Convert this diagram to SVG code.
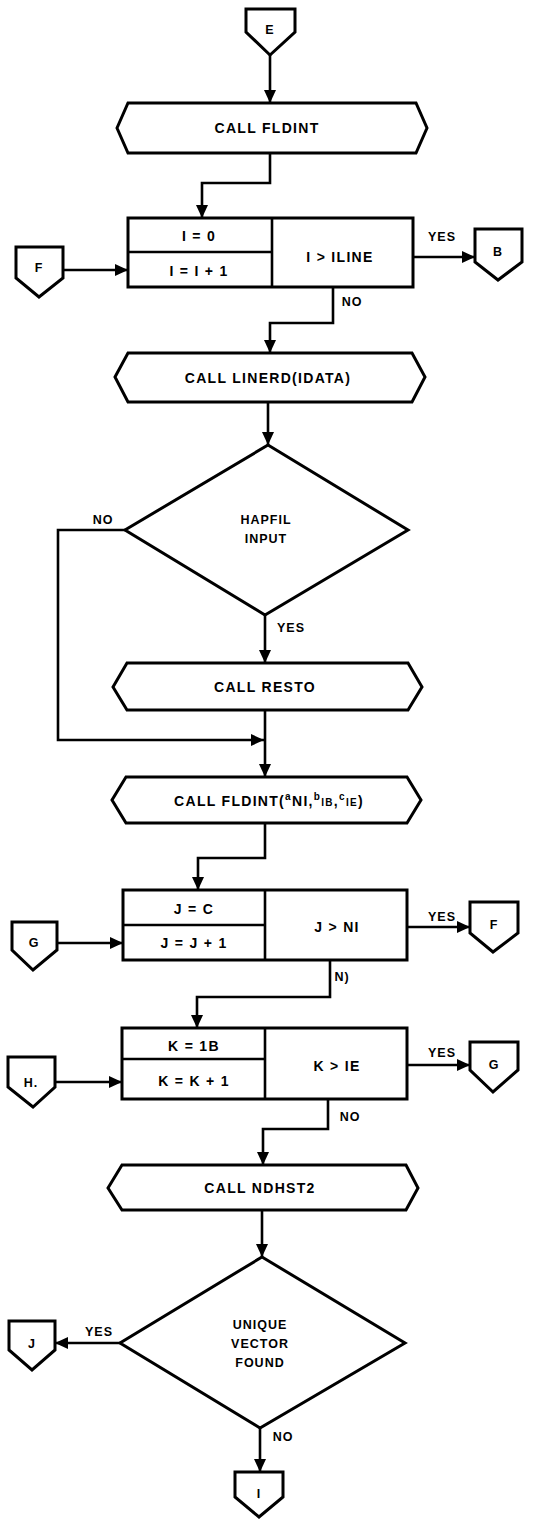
<svg xmlns="http://www.w3.org/2000/svg" width="553" height="1519" viewBox="0 0 553 1519">
<style>
.s{fill:#fff;stroke:#000;stroke-width:3;stroke-linejoin:miter}
.ln{fill:none;stroke:#000;stroke-width:2.6}
.c{fill:none;stroke:#000;stroke-width:2.6;marker-end:url(#ah)}
text{font-family:"Liberation Sans",Arial,sans-serif;font-weight:bold;fill:#000;text-anchor:middle;dominant-baseline:central}
.t{font-size:14px;letter-spacing:1.3px}
.l{font-size:12.5px;letter-spacing:1px}
.sm{font-size:10px}
</style>
<defs>
<marker id="ah" markerUnits="userSpaceOnUse" markerWidth="13" markerHeight="12" refX="13" refY="6" orient="auto">
<path d="M0,0 L13,6 L0,12 z" fill="#000"/>
</marker>
</defs>
<g id="connectors">
<path class="c" d="M270 55 V103"/>
<path class="c" d="M270 153 V183 H202 V218"/>
<path class="c" d="M63 270 H128"/>
<path class="c" d="M413 257 H475"/>
<path class="c" d="M333 287 V323 H270 V353"/>
<path class="c" d="M268 402 V445"/>
<path class="c" d="M265 615 V663"/>
<path class="c" d="M125 530 H58 V740 H264"/>
<path class="c" d="M265 710 V777"/>
<path class="c" d="M265 823 V858 H198 V890"/>
<path class="c" d="M57 943 H123"/>
<path class="c" d="M407 927 H470"/>
<path class="c" d="M330 960 V997 H197 V1028"/>
<path class="c" d="M55 1082 H122"/>
<path class="c" d="M407 1065 H470"/>
<path class="c" d="M328 1099 V1129 H263 V1165"/>
<path class="c" d="M262 1210 V1257"/>
<path class="c" d="M120 1343 H55"/>
<path class="c" d="M260 1428 V1472"/>
<text class="l" x="442" y="237">YES</text>
<text class="l" x="352" y="302">NO</text>
<text class="l" x="103" y="520">NO</text>
<text class="l" x="291" y="628">YES</text>
<text class="l" x="442" y="917">YES</text>
<text class="l" x="342" y="977">N)</text>
<text class="l" x="442" y="1053">YES</text>
<text class="l" x="350" y="1117">NO</text>
<text class="l" x="99" y="1332">YES</text>
<text class="l" x="283" y="1437">NO</text>
</g>
<g id="conn-E"><polygon class="s" points="246,9 295,9 295,32 270,55 246,32"/><text class="l" x="270" y="30">E</text></g>
<g id="call-fldint"><polygon class="s" points="117,128 128,103 416,103 427,128 416,153 128,153"/><text class="t" x="267" y="128">CALL FLDINT</text></g>
<g id="loop-I">
<rect class="s" x="128" y="218" width="285" height="69"/>
<line class="ln" x1="272" y1="218" x2="272" y2="287"/>
<line class="ln" x1="128" y1="252" x2="272" y2="252"/>
<text class="t" x="199" y="236">I = 0</text>
<text class="t" x="199" y="271">I = I + 1</text>
<text class="t" x="340" y="257">I &gt; ILINE</text>
</g>
<g id="conn-F-left"><polygon class="s" points="16,247 63,247 63,278 39,297 16,278"/><text class="l" x="39" y="268">F</text></g>
<g id="conn-B"><polygon class="s" points="475,229 522,229 522,262 498,280 475,262"/><text class="l" x="498" y="252">B</text></g>
<g id="call-linerd"><polygon class="s" points="115,377 128,353 412,353 425,377 412,402 128,402"/><text class="t" x="268" y="378">CALL LINERD(IDATA)</text></g>
<g id="dec-mapfil"><polygon class="s" points="268,445 408,530 265,615 125,530"/><text class="l" x="266" y="520">HAPFIL</text><text class="l" x="266" y="539">INPUT</text></g>
<g id="call-resto"><polygon class="s" points="113,687 127,663 408,663 422,687 408,710 127,710"/><text class="t" x="265" y="687">CALL RESTO</text></g>
<g id="call-fldint2"><polygon class="s" points="112,800 126,777 407,777 421,800 407,823 126,823"/>
<text class="t" x="269" y="801">CALL FLDINT(<tspan class="sm" dy="-5">a</tspan><tspan dy="5">NI,</tspan><tspan class="sm" dy="-5">b</tspan><tspan class="sm" dy="6">IB</tspan><tspan dy="-1">,</tspan><tspan class="sm" dy="-5">c</tspan><tspan class="sm" dy="6">IE</tspan><tspan dy="-1">)</tspan></text></g>
<g id="loop-J">
<rect class="s" x="123" y="890" width="284" height="70"/>
<line class="ln" x1="265" y1="890" x2="265" y2="960"/>
<line class="ln" x1="123" y1="925" x2="265" y2="925"/>
<text class="t" x="194" y="909">J = C</text>
<text class="t" x="194" y="943">J = J + 1</text>
<text class="t" x="337" y="927">J &gt; NI</text>
</g>
<g id="conn-G-left"><polygon class="s" points="12,922 57,922 57,950 33,970 12,950"/><text class="l" x="34" y="943">G</text></g>
<g id="conn-F-right"><polygon class="s" points="470,902 518,902 518,933 493,952 470,933"/><text class="l" x="494" y="925">F</text></g>
<g id="loop-K">
<rect class="s" x="122" y="1028" width="285" height="71"/>
<line class="ln" x1="265" y1="1028" x2="265" y2="1099"/>
<line class="ln" x1="122" y1="1059" x2="265" y2="1059"/>
<text class="t" x="194" y="1046">K = 1B</text>
<text class="t" x="194" y="1081">K = K + 1</text>
<text class="t" x="337" y="1066">K &gt; IE</text>
</g>
<g id="conn-H"><polygon class="s" points="8,1057 55,1057 55,1087 33,1107 8,1087"/><text class="l" x="31" y="1083">H.</text></g>
<g id="conn-G-right"><polygon class="s" points="470,1042 518,1042 518,1070 493,1092 470,1070"/><text class="l" x="494" y="1065">G</text></g>
<g id="call-ndhst2"><polygon class="s" points="108,1188 122,1165 406,1165 418,1188 406,1210 122,1210"/><text class="t" x="260" y="1188">CALL NDHST2</text></g>
<g id="dec-unique"><polygon class="s" points="262,1257 405,1343 260,1428 120,1343"/><text class="l" x="260" y="1325">UNIQUE</text><text class="l" x="260" y="1344">VECTOR</text><text class="l" x="260" y="1363">FOUND</text></g>
<g id="conn-J"><polygon class="s" points="9,1321 55,1321 55,1350 32,1370 9,1350"/><text class="l" x="32" y="1344">J</text></g>
<g id="conn-I"><polygon class="s" points="235,1472 283,1472 283,1497 259,1517 235,1497"/><text class="l" x="259" y="1494">I</text></g>
</svg>
